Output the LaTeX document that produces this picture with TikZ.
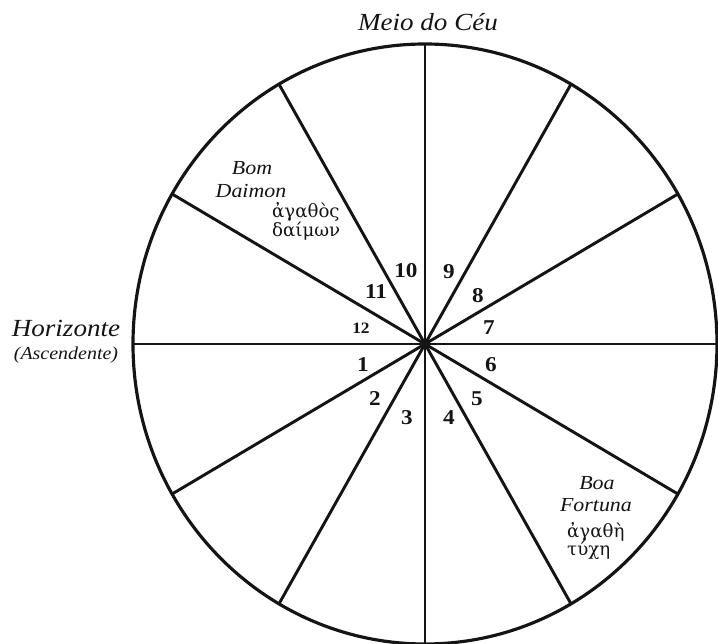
\documentclass[tikz,border=0pt]{standalone}
\usepackage{fontspec}
\setmainfont{Liberation Serif}
\newfontfamily\labelfont[FakeStretch=1.1]{Liberation Serif}
\newfontfamily\greekfont{DejaVu Serif}
\usetikzlibrary{positioning,calc}
\definecolor{Ink}{HTML}{141414}
\tikzset{
  wheel/.style={draw=Ink, line width=2.7pt},
  spoke/.style={draw=Ink, line width=2.5pt},
  axislabel/.style={font=\labelfont\itshape\fontsize{21}{24}\selectfont, text=Ink, inner sep=0pt, anchor=base},
  sublabel/.style={font=\labelfont\itshape\fontsize{15.5}{17}\selectfont, text=Ink, inner sep=0pt, anchor=base},
  houselabel/.style={font=\labelfont\itshape\fontsize{17}{19}\selectfont, text=Ink, inner sep=0pt, anchor=base},
  greek/.style={font=\greekfont\fontsize{15.5}{16}\selectfont, text=Ink, inner sep=0pt, anchor=base west},
  housenum/.style={font=\labelfont\bfseries\fontsize{18}{20}\selectfont, text=Ink, inner sep=0pt}
}

\begin{document}
\begin{tikzpicture}[x=0.03cm, y=0.03cm]
  \useasboundingbox (-425,-300) rectangle (293,344);
  \coordinate (c) at (0,0);

  % circle and the twelve houses
  \draw[wheel] (c) ellipse [x radius=292, y radius=300];
  \foreach \a in {0,30,...,330}
    \draw[spoke] (c) -- (\a:292 and 300);
  \fill[Ink] (c) circle [radius=5];

  % house numbers
  \foreach \n/\x/\y in {1/-62/-21, 2/-50/-55, 3/-18/-74, 4/24/-74, 5/52/-55, 6/66/-21,
                        7/64/16, 8/53/48, 9/24/72, 10/-19/73, 11/-49/52}
    \node[housenum] (h\n) at (\x,\y) {\n};
  \node[housenum, font=\labelfont\bfseries\fontsize{13.5}{15}\selectfont] (h12) at (-64,16) {12};

  % angles
  \node[axislabel] (mc) at (3,313) {Meio do Céu};
  \node[axislabel] (hor) at (-359,7) {Horizonte};
  \node[sublabel] (asc) at (-359,-16) {(Ascendente)};

  % good daimon and good fortune
  \node[houselabel] (bom) at (-173,169) {Bom};
  \node[houselabel] (daimon) at (-174,146) {Daimon};
  \node[greek] (agathos) at (-153,126) {ἀγαθὸς};
  \node[greek] (daimongr) at (-153,107) {δαίμων};

  \node[houselabel] (boa) at (172,-146) {Boa};
  \node[houselabel] (fortuna) at (171,-168) {Fortuna};
  \node[greek] (agathe) at (142,-194) {ἀγαθὴ};
  \node[greek] (tyche) at (142,-212) {τύχη};
\end{tikzpicture}
\end{document}
